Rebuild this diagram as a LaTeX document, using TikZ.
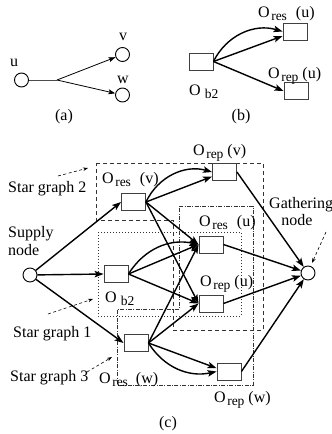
\documentclass[tikz,border=0pt]{standalone}
\usepackage{fontspec}
\setmainfont{Liberation Serif}
\usetikzlibrary{arrows.meta}

% operator label: O with a lowered subscript, then an optional argument
\newcommand{\subfnt}{\fontsize{13.5}{13.5}\selectfont}
\newcommand{\Olab}[3]{O\kern1.5pt\raisebox{-3.5pt}{\subfnt #1}\kern#3#2}

\tikzset{
  lbl/.style={inner sep=0pt, font=\fontsize{16}{18}\selectfont},
  opbox/.style={draw=black!75, line width=0.9pt, minimum width=24pt, minimum height=17pt, inner sep=0pt},
  vtx/.style={circle, draw, line width=0.9pt, minimum size=14pt, inner sep=0pt},
  arr/.style={line width=1.4pt, -{Stealth[length=9pt,width=6.5pt,inset=2pt]}},
  thinarr/.style={line width=0.8pt, -{Stealth[length=7pt,width=5pt,inset=1.5pt]}},
  pointer/.style={line width=0.6pt, dash pattern=on 3pt off 2.5pt, -{Stealth[length=5pt,width=3.5pt]}},
  sgtwo/.style={line width=0.8pt, black!80, dash pattern=on 4pt off 3pt},
  sgone/.style={line width=0.8pt, black!80, dash pattern=on 0.8pt off 2.2pt},
  sgthree/.style={line width=0.8pt, black!80, dash pattern=on 4pt off 1.5pt on 0.8pt off 1.5pt},
}

\begin{document}
\begin{tikzpicture}[x=1pt,y=-1pt]
\useasboundingbox (0,0) rectangle (332,434);

% ---------------- (a) ----------------
\node[vtx] (u) at (21.5,80) {};
\node[vtx] (v) at (122.5,54.5) {};
\node[vtx] (w) at (122.5,95) {};
\coordinate (br) at (57,80);
\node[lbl] (lu) at (14,63) {u};
\node[lbl] (lv) at (123,37) {v};
\node[lbl] (lw) at (123,80) {w};
\draw[line width=0.9pt, black!70] (u) -- (br);
\draw[thinarr] (br) -- (v);
\draw[thinarr] (br) -- (w);
\node[lbl] (capa) at (64,117) {(a)};

% ---------------- (b) ----------------
\node[opbox] (bob2) at (201,61.5) {};
\node[opbox] (bresu) at (295,31.5) {};
\node[opbox] (brepu) at (296,91) {};
\node[lbl, anchor=base west] (lbresu) at (258,17) {\Olab{res}{(u)}{9pt}};
\node[lbl, anchor=base west] (lbrepu) at (268,78) {\Olab{rep}{(u)}{4pt}};
\node[lbl, anchor=base west] (lbob2) at (189,95) {O\kern4pt\raisebox{-3.5pt}{\subfnt b2}};
\draw[arr] (bob2.east) to[bend left=40] (bresu.west);
\draw[arr] (bob2.east) -- (bresu.200);
\draw[arr] (bob2.east) -- (brepu.west);
\node[lbl] (capb) at (241,117) {(b)};

% ---------------- (c) ----------------
% star graph regions
\draw[sgtwo] (96,163) -- (263,163) -- (263,330) -- (173,330) -- (173,220) -- (96,220) -- cycle;
\draw[sgone] (98,232) rectangle (241,316);
\draw[sgthree] (179,206) -- (253,206) -- (253,385) -- (117,385) -- (117,309) -- (179,309) -- cycle;

% nodes
\node[vtx] (supply) at (30,275) {};
\node[vtx] (gath) at (308,273) {};
\node[opbox] (oresv) at (133.5,202) {};
\node[opbox] (repv) at (224.5,172) {};
\node[opbox] (oresu) at (211,244.5) {};
\node[opbox] (orepu) at (211,303.5) {};
\node[opbox] (ob2) at (116,274) {};
\node[opbox] (oresw) at (136,343) {};
\node[opbox] (orepw) at (229,371.5) {};

% labels
\node[lbl, anchor=base west] (lresv) at (102,183) {\Olab{res}{(v)}{9pt}};
\node[lbl, anchor=base west] (lrepv) at (193,155) {\Olab{rep}{(v)}{4pt}};
\node[lbl, anchor=base west] (lresu) at (199,226) {\Olab{res}{(u)}{9pt}};
\node[lbl, anchor=base west] (lrepu) at (200,286) {\Olab{rep}{(u)}{4pt}};
\node[lbl, anchor=base west] (lob2) at (105,302) {O\kern4pt\raisebox{-3.5pt}{\subfnt b2}};
\node[lbl, anchor=base west] (lresw) at (99,383) {\Olab{res}{(w)}{8pt}};
\node[lbl, anchor=base west] (lrepw) at (214,402) {\Olab{rep}{(w)}{4pt}};
\node[lbl, anchor=base west] (lsup1) at (8,237) {Supply};
\node[lbl, anchor=base west] (lsup2) at (8,255) {node};
\node[lbl, anchor=base west] (lgat1) at (269,208) {Gathering};
\node[lbl, anchor=base] (lgat2) at (297,225) {node};
\node[lbl, anchor=base west] (lsg2) at (8,192) {Star graph 2};
\node[lbl, anchor=base west] (lsg1) at (13,337) {Star graph 1};
\node[lbl, anchor=base west] (lsg3) at (10,381) {Star graph 3};
\node[lbl] (capc) at (168,424) {(c)};

% pointers from the region names
\coordinate (p2a) at (58,176);  \coordinate (p2b) at (88,168);
\coordinate (p1a) at (48,314);  \coordinate (p1b) at (93,299);
\coordinate (p3a) at (87,372);  \coordinate (p3b) at (112,357);
\coordinate (pga) at (326,232); \coordinate (pgb) at (312,263);
\draw[pointer] (p2a) -- (p2b);
\draw[pointer] (p1a) -- (p1b);
\draw[pointer] (p3a) -- (p3b);
\draw[pointer] (pga) -- (pgb);

% flows from the supply node
\draw[arr] (supply) -- (oresv.west);
\draw[arr] (supply) -- (ob2.west);
\draw[arr] (supply) -- (oresw.west);

% star graph 2
\draw[arr] (oresv.east) to[bend left=40] (repv.west);
\draw[arr] (oresv.east) -- (repv.200);
\draw[arr] (oresv.east) -- (oresu.west);
\draw[arr] (oresv.east) -- (orepu.west);

% star graph 1
\draw[arr] (ob2.east) to[bend left=35] (oresu.west);
\draw[arr] (ob2.east) -- (oresu.west);
\draw[arr] (ob2.east) -- (orepu.west);

% star graph 3
\draw[arr] (oresw.east) -- (oresu.west);
\draw[arr] (oresw.east) -- (orepu.west);
\draw[arr] (oresw.east) -- (orepw.165);
\draw[arr] (oresw.east) to[bend right=35] (orepw.west);

% into the gathering node
\draw[arr] (repv.east) -- (gath);
\draw[arr] (oresu.east) -- (gath);
\draw[arr] (orepu.east) -- (gath);
\draw[arr] (orepw.east) -- (gath);
\end{tikzpicture}
\end{document}
